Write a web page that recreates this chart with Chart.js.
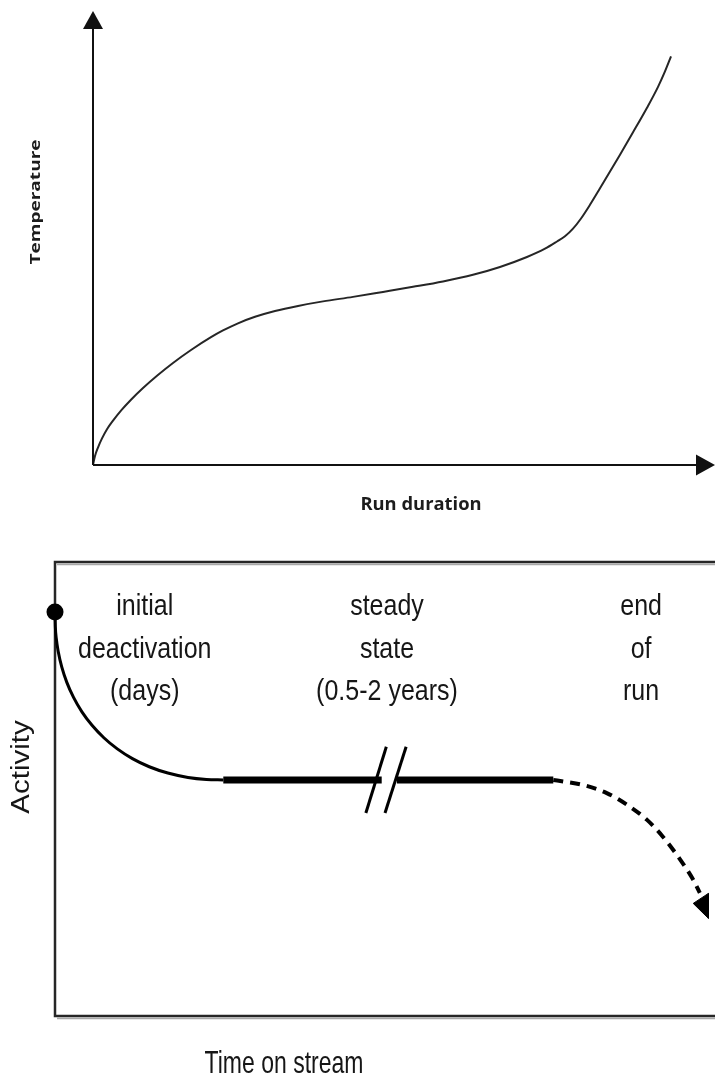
<!DOCTYPE html>
<html><head><meta charset="utf-8">
<script src="https://cdn.jsdelivr.net/npm/chart.js@4/dist/chart.umd.min.js"></script>
<style>
html,body{margin:0;padding:0;background:#fff;}
#wrap{position:relative;width:715px;height:1078px;overflow:hidden;background:#fff;}
canvas{display:block;position:absolute;left:0;}
</style></head><body>
<div id="wrap">
<canvas id="c1" width="715" height="530" style="top:0px"></canvas>
<canvas id="c2" width="715" height="548" style="top:530px"></canvas>
</div>
<script>
// ===== Top chart: Temperature vs Run duration =====
const runDuration = [0, 0.32, 0.80, 1.45, 2.25, 3.22, 4.50, 6.11, 8.04, 10.29, 12.86, 15.76, 18.97, 20.90, 23.31, 26.05, 29.26, 32.96, 36.98, 41.80, 46.62, 51.45, 56.27, 61.09, 65.43, 69.77, 72.67, 74.60, 75.88, 77.17, 78.46, 79.90, 81.51, 84.73, 86.82, 89.07, 90.84, 91.96, 92.93];
const temperature = [0, 1.98, 3.85, 5.86, 7.89, 9.76, 11.96, 14.36, 16.94, 19.65, 22.47, 25.33, 28.15, 29.63, 31.21, 32.64, 33.92, 35.04, 36.04, 37.03, 38.13, 39.25, 40.44, 41.89, 43.61, 45.81, 47.64, 49.23, 50.37, 52.05, 54.30, 57.31, 60.95, 68.35, 73.28, 78.70, 83.30, 86.70, 90.00];
const topXTitle = 'Run duration';
const topYTitle = 'Temperature';

// ===== Bottom chart: Activity vs Time on stream =====
const startX = [0];
const startY = [89.0];
const initialX = [0, 0.05, 0.20, 0.51, 1.02, 1.79, 2.81, 4.08, 5.61, 7.40, 9.44, 11.73, 14.28, 17.09, 20.15, 22.95, 25.5];
const initialY = [89.0, 85.86, 83.11, 80.11, 76.88, 73.49, 70.17, 67.00, 64.03, 61.29, 58.83, 56.69, 54.90, 53.51, 52.55, 52.11, 52.0];
const steadyX = [25.5, 49.5, 50.6, 51.8, 75.5];
const steadyY = [52.0, 52.0, null, 52.0, 52.0];
const breakAX = [47.1, 50.2];
const breakBX = [50.0, 53.2];
const breakY = [44.7, 59.3];
const endX = [75.5, 77.3, 80.0, 83.6, 86.7, 89.7, 92.1, 94.7, 96.7, 97.7];
const endY = [52.0, 51.6, 50.9, 49.1, 46.5, 43.2, 39.5, 34.5, 30.0, 27.1];
const arrowX = [96.7, 99.0, 99.0, 96.7];
const arrowY = [24.8, 27.0, 21.5, 24.8];
const phaseCenters = [13.6, 50.3, 88.8];
const phaseLabels = [
  ['initial', 'deactivation', '(days)'],
  ['steady', 'state', '(0.5-2 years)'],
  ['end', 'of', 'run']
];
const bottomXTitle = 'Time on stream';
const bottomYTitle = 'Activity';

const pts = (xs, ys) => xs.map((x, i) => ({x: x, y: ys[i]}));

// ---- Top chart plugins ----
const topAxes = {
  id: 'topAxes',
  afterDraw(chart) {
    const {ctx, chartArea: a} = chart;
    ctx.save();
    ctx.strokeStyle = '#111'; ctx.fillStyle = '#111'; ctx.lineWidth = 2;
    ctx.beginPath();
    ctx.moveTo(a.left, a.bottom); ctx.lineTo(a.left, a.top + 14);
    ctx.moveTo(a.left, a.bottom); ctx.lineTo(a.right - 16, a.bottom);
    ctx.stroke();
    ctx.beginPath();
    ctx.moveTo(a.left, a.top); ctx.lineTo(a.left - 10, a.top + 18); ctx.lineTo(a.left + 10, a.top + 18); ctx.closePath(); ctx.fill();
    ctx.beginPath();
    ctx.moveTo(a.right, a.bottom); ctx.lineTo(a.right - 19, a.bottom - 10.5); ctx.lineTo(a.right - 19, a.bottom + 10.5); ctx.closePath(); ctx.fill();
    ctx.fillStyle = '#1c1c1c';
    ctx.font = 'bold 17px "Open Sans", "Noto Sans", sans-serif';
    ctx.textAlign = 'center'; ctx.textBaseline = 'alphabetic';
    ctx.save();
    ctx.translate(421, a.bottom + 45);
    ctx.scale(1.08, 1);
    ctx.fillText(topXTitle, 0, 0);
    ctx.restore();
    ctx.save();
    ctx.font = 'bold 14px "Open Sans", "Noto Sans", sans-serif';
    ctx.textBaseline = 'middle';
    ctx.translate(36, 202);
    ctx.rotate(-Math.PI / 2);
    ctx.scale(1.36, 1);
    ctx.fillText(topYTitle, 0, 0);
    ctx.restore();
    ctx.restore();
  }
};

new Chart(document.getElementById('c1'), {
  type: 'scatter',
  data: { datasets: [{
    data: pts(runDuration, temperature),
    showLine: true, borderColor: '#262626', borderWidth: 2,
    pointRadius: 0, cubicInterpolationMode: 'monotone', clip: false
  }]},
  options: {
    responsive: false, animation: false, events: [],
    layout: { autoPadding: false, padding: { left: 93, top: 11, right: 0, bottom: 65 } },
    plugins: { legend: { display: false }, tooltip: { enabled: false } },
    scales: {
      x: { type: 'linear', min: 0, max: 100, display: false },
      y: { type: 'linear', min: 0, max: 100, display: false }
    }
  },
  plugins: [topAxes]
});

// ---- Bottom chart plugins ----
const boxPlugin = {
  id: 'boxPlugin',
  beforeDatasetsDraw(chart) {
    const {ctx, chartArea: a} = chart;
    ctx.save();
    ctx.strokeStyle = '#a8a8a8'; ctx.lineWidth = 1.5;
    ctx.beginPath();
    ctx.moveTo(a.left + 2, a.top + 2.5); ctx.lineTo(a.right, a.top + 2.5);
    ctx.moveTo(a.left + 2, a.bottom + 2.5); ctx.lineTo(a.right, a.bottom + 2.5);
    ctx.stroke();
    ctx.strokeStyle = '#262626'; ctx.lineWidth = 2.5;
    ctx.beginPath();
    ctx.moveTo(a.right, a.top); ctx.lineTo(a.left, a.top); ctx.lineTo(a.left, a.bottom); ctx.lineTo(a.right, a.bottom);
    ctx.stroke();
    ctx.restore();
  },
  afterDraw(chart) {
    const {ctx, chartArea: a, scales: {x}} = chart;
    ctx.save();
    ctx.fillStyle = '#161616';
    ctx.font = '25px "Liberation Sans", Arial, sans-serif';
    ctx.textAlign = 'center'; ctx.textBaseline = 'alphabetic';
    phaseLabels.forEach((lines, i) => {
      const cx = x.getPixelForValue(phaseCenters[i]);
      lines.forEach((t, j) => {
        ctx.save();
        ctx.translate(cx, a.top + 53 + j * 42.5);
        ctx.scale(1, 1.18);
        ctx.fillText(t, 0, 0);
        ctx.restore();
      });
    });
    ctx.save();
    ctx.translate(284, a.bottom + 57);
    ctx.scale(0.92, 1.25);
    ctx.fillText(bottomXTitle, 0, 0);
    ctx.restore();
    ctx.save();
    ctx.textBaseline = 'middle';
    ctx.translate(22, 237);
    ctx.rotate(-Math.PI / 2);
    ctx.scale(1.18, 1);
    ctx.fillText(bottomYTitle, 0, 0);
    ctx.restore();
    ctx.restore();
  }
};

new Chart(document.getElementById('c2'), {
  type: 'scatter',
  data: { datasets: [
    { data: pts(initialX, initialY), showLine: true, borderColor: '#000', borderWidth: 3,
      pointRadius: 0, cubicInterpolationMode: 'monotone', clip: false },
    { data: pts(steadyX, steadyY), showLine: true, spanGaps: false, borderColor: '#000', borderWidth: 7,
      borderCapStyle: 'butt', pointRadius: 0, tension: 0, clip: false },
    { data: pts(breakAX, breakY), showLine: true, borderColor: '#000', borderWidth: 3,
      pointRadius: 0, tension: 0, clip: false },
    { data: pts(breakBX, breakY), showLine: true, borderColor: '#000', borderWidth: 3,
      pointRadius: 0, tension: 0, clip: false },
    { data: pts(endX, endY), showLine: true, borderColor: '#000', borderWidth: 4, borderDash: [10, 7],
      pointRadius: 0, cubicInterpolationMode: 'monotone', clip: false },
    { data: pts(arrowX, arrowY), showLine: true, borderColor: '#000', borderWidth: 1, backgroundColor: '#000',
      fill: 'shape', pointRadius: 0, tension: 0, clip: false },
    { data: pts(startX, startY), showLine: false, pointRadius: 8.5, pointStyle: 'circle',
      backgroundColor: '#000', borderColor: '#000', borderWidth: 0, clip: false }
  ]},
  options: {
    responsive: false, animation: false, events: [],
    layout: { autoPadding: false, padding: { left: 55, top: 32, right: 0, bottom: 62 } },
    plugins: { legend: { display: false }, tooltip: { enabled: false } },
    scales: {
      x: { type: 'linear', min: 0, max: 100, display: false },
      y: { type: 'linear', min: 0, max: 100, display: false }
    }
  },
  plugins: [boxPlugin]
});
</script>
</body></html>
